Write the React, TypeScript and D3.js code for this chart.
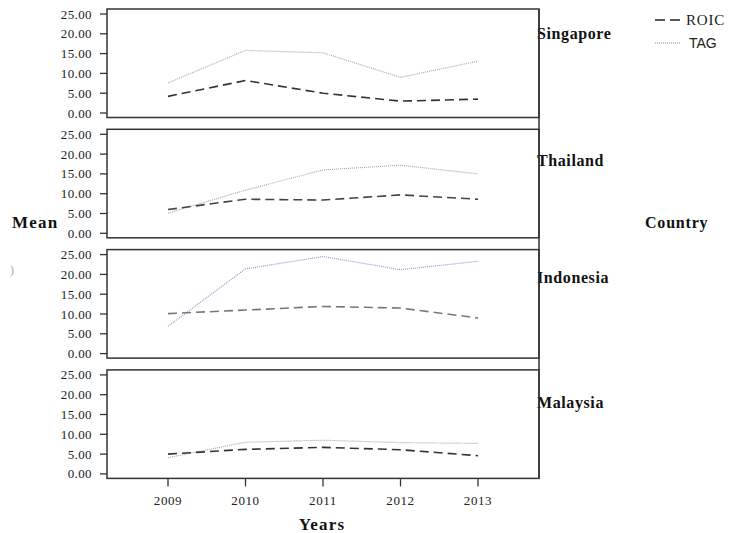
import React from 'react';
import * as d3 from 'd3';

const years = ['2009', '2010', '2011', '2012', '2013'];
const countries = ['Singapore', 'Thailand', 'Indonesia', 'Malaysia'];
const roic = [
  [4.2, 8.2, 5.0, 3.0, 3.5],
  [6.0, 8.6, 8.4, 9.7, 8.6],
  [10.1, 11.0, 11.9, 11.5, 9.0],
  [5.0, 6.2, 6.7, 6.1, 4.6],
];
const tag = [
  [7.6, 15.8, 15.2, 9.0, 13.1],
  [5.1, 10.9, 16.0, 17.2, 15.0],
  [6.9, 21.4, 24.5, 21.2, 23.3],
  [4.1, 8.0, 8.5, 7.9, 7.7],
];
const yTicks = [0, 5, 10, 15, 20, 25];
const roicColors = ['#333', '#444', '#777', '#333'];
const tagColors = ['#aaa', '#aaa', '#8f9dd0', '#aaa'];
const labelOffsets = [24, 31, 28, 32];

const W = 743;
const H = 533;
const left = 107;
const right = 539;
const panelTop0 = 9;
const panelStep = 120.3;
const panelH = 108.5;
const serif = '"Liberation Serif", "Times New Roman", serif';

export default function App() {
  const x = d3.scalePoint<string>().domain(years).range([left, right]).padding(0.787);
  const lastBottom = panelTop0 + 3 * panelStep + panelH;

  return (
    <svg width={W} height={H} style={{ position: 'absolute', left: 0, top: 0, background: '#fff' }}>
      {countries.map((c, i) => {
        const top = panelTop0 + i * panelStep;
        const y = d3.scaleLinear().domain([0, 25]).range([top + 104, top + 5]);
        const line = d3
          .line<number>()
          .x((_, j) => x(years[j]) as number)
          .y((d) => y(d));
        return (
          <g key={c}>
            <rect x={left} y={top} width={right - left} height={panelH} fill="none" stroke="#333" strokeWidth={1.5} />
            {yTicks.map((t) => (
              <g key={t}>
                <line x1={left - 7} x2={left} y1={y(t)} y2={y(t)} stroke="#333" strokeWidth={1.3} />
                <text
                  x={92}
                  y={y(t)}
                  dy="0.35em"
                  textAnchor="end"
                  fontFamily={serif}
                  fontSize={13}
                  letterSpacing={0.4}
                  fill="#222"
                >
                  {t.toFixed(2)}
                </text>
              </g>
            ))}
            <path d={line(tag[i]) || ''} fill="none" stroke={tagColors[i]} strokeWidth={1.2} strokeDasharray="1,1" />
            <path d={line(roic[i]) || ''} fill="none" stroke={roicColors[i]} strokeWidth={1.6} strokeDasharray="9,5" />
            <text
              x={537}
              y={top + labelOffsets[i]}
              dy="0.35em"
              fontFamily={serif}
              fontWeight="bold"
              fontSize={16}
              letterSpacing={0.6}
              fill="#111"
            >
              {c}
            </text>
          </g>
        );
      })}
      <line x1={right} x2={right} y1={panelTop0} y2={lastBottom} stroke="#333" strokeWidth={1.5} />
      {years.map((yr) => (
        <g key={yr}>
          <line x1={x(yr)} x2={x(yr)} y1={lastBottom} y2={lastBottom + 8} stroke="#333" strokeWidth={1.3} />
          <text x={x(yr)} y={505} textAnchor="middle" fontFamily={serif} fontSize={13} letterSpacing={0.6} fill="#222">
            {yr}
          </text>
        </g>
      ))}
      <text x={322} y={530} textAnchor="middle" fontFamily={serif} fontWeight="bold" fontSize={17} letterSpacing={1.2} fill="#111">
        Years
      </text>
      <text x={12} y={228} fontFamily={serif} fontWeight="bold" fontSize={17} letterSpacing={1.2} fill="#111">
        Mean
      </text>
      <text x={645} y={228} fontFamily={serif} fontWeight="bold" fontSize={16} letterSpacing={0.8} fill="#111">
        Country
      </text>
      <text x={10} y={274} fontFamily={serif} fontSize={12} fill="#aaa">
        )
      </text>
      <line x1={655} x2={681} y1={20} y2={20} stroke="#222" strokeWidth={1.5} strokeDasharray="10,5" />
      <text x={686} y={20} dy="0.35em" fontFamily={serif} fontSize={15} letterSpacing={0.8} fill="#222">
        ROIC
      </text>
      <line x1={655} x2={681} y1={43} y2={43} stroke="#888" strokeWidth={1} strokeDasharray="1,1" />
      <text x={689} y={43} dy="0.35em" fontFamily='"Liberation Sans", Arial, sans-serif' fontSize={14} fill="#222">
        TAG
      </text>
    </svg>
  );
}
